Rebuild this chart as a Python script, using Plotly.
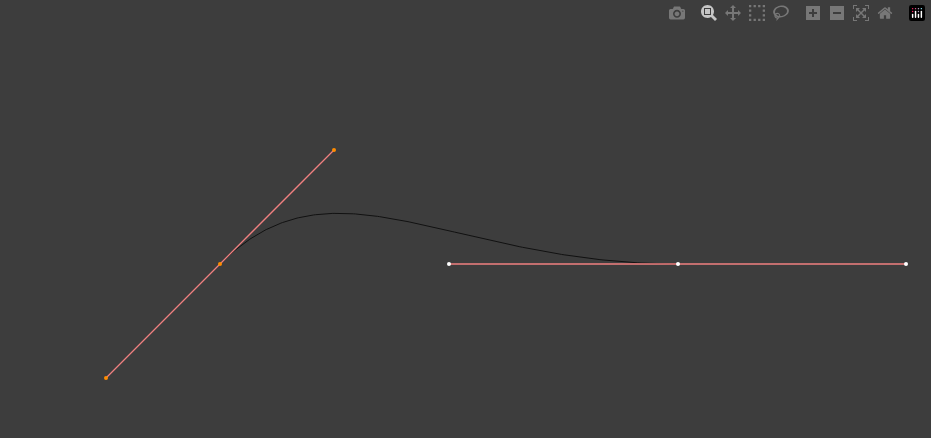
import numpy as np
import plotly.graph_objects as go

# control points of the bezier (pixel-like coordinates, y down)
left_x = [106, 220, 334]
left_y = [378, 264, 150]
right_x = [449, 678, 906]
right_y = [264, 264, 264]

# cubic segment: left knot -> left handle -> right handle -> right knot
p0 = np.array([left_x[1], left_y[1]])
p1 = np.array([left_x[2], left_y[2]])
p2 = np.array([right_x[0], right_y[0]])
p3 = np.array([right_x[1], right_y[1]])
t = np.linspace(0, 1, 200)[:, None]
curve = (1-t)**3*p0 + 3*(1-t)**2*t*p1 + 3*(1-t)*t**2*p2 + t**3*p3

fig = go.Figure()
fig.add_trace(go.Scatter(x=curve[:, 0], y=curve[:, 1], mode='lines',
                         line=dict(color='#111111', width=1)))
fig.add_trace(go.Scatter(x=left_x, y=left_y, mode='lines+markers',
                         line=dict(color='#f08080', width=1.3),
                         marker=dict(color='#ff8c00', size=4)))
fig.add_trace(go.Scatter(x=right_x, y=right_y, mode='lines+markers',
                         line=dict(color='#f08080', width=1.3),
                         marker=dict(color='#ffffff', size=4)))

fig.update_layout(
    width=931, height=438, showlegend=False,
    paper_bgcolor='#3d3d3d', plot_bgcolor='#3d3d3d',
    margin=dict(l=0, r=0, t=0, b=0),
    xaxis=dict(range=[0, 931], visible=False),
    yaxis=dict(range=[438, 0], visible=False),
)
# drop the page margin so the chart fills the window
fig.write_html("out.html",
               post_script="document.body.style.margin='0';"
                           "document.body.style.background='#3d3d3d';")
